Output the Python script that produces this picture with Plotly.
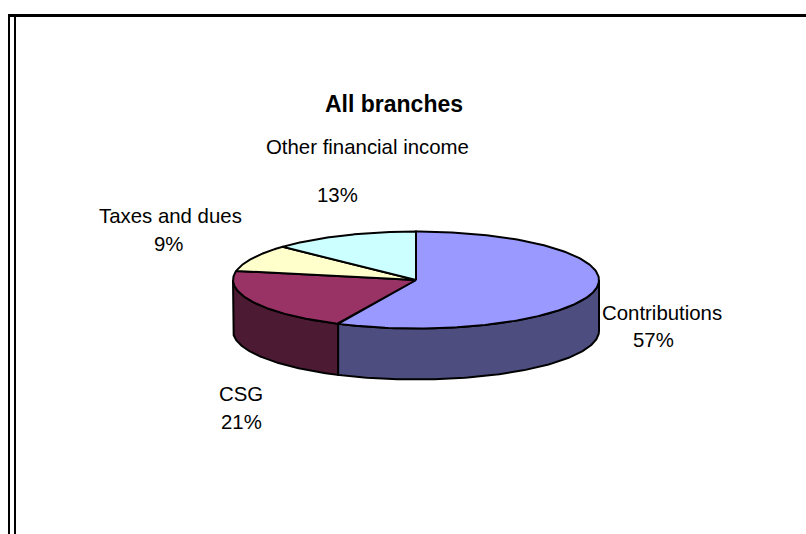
import numpy as np
import plotly.graph_objects as go

# Revenue shares for all branches, in percent
categories = ["Contributions", "CSG", "Taxes and dues", "Other financial income"]
shares = [57, 21, 9, 13]
top_colors = ["#9999FF", "#993366", "#FFFFCC", "#CCFFFF"]
side_colors = ["#4D4D80", "#4D1A33", "#80801A", "#1A8080"]

# Projected pie geometry, in page pixels
CX, CY, RX, RY, DEPTH = 416, 280, 183, 48.5, 51
OUTLINE = dict(color="#000000", width=2)

# Label anchors: (name x, name y, percent x, percent y)
label_anchors = [
    (662, 313, 653, 340),
    (241, 394, 241, 422),
    (170, 216, 168, 244),
    (367.5, 147, 337, 195),
]


def rim(theta):
    """Project clockwise-from-top angles (radians) onto the pie's top ellipse."""
    return CX + RX * np.sin(theta), CY - RY * np.cos(theta)


fig = go.Figure()
edges = np.radians(np.concatenate([[0], np.cumsum(shares)]) * 3.6)

# Outer walls: only the arc facing the viewer is visible
for i, name in enumerate(categories):
    lo, hi = max(edges[i], np.pi / 2), min(edges[i + 1], 3 * np.pi / 2)
    if hi <= lo:
        continue
    t = np.linspace(lo, hi, 120)
    x, y = rim(t)
    fig.add_trace(go.Scatter(
        x=np.concatenate([x, x[::-1], x[:1]]),
        y=np.concatenate([y, y[::-1] + DEPTH, y[:1]]),
        mode="lines", fill="toself", fillcolor=side_colors[i], line=OUTLINE,
        name=name, hoverinfo="name", showlegend=False,
    ))

# Top faces
for i, name in enumerate(categories):
    t = np.linspace(edges[i], edges[i + 1], 200)
    x, y = rim(t)
    fig.add_trace(go.Scatter(
        x=np.concatenate([[CX], x, [CX]]),
        y=np.concatenate([[CY], y, [CY]]),
        mode="lines", fill="toself", fillcolor=top_colors[i], line=OUTLINE,
        name=name, text=f"{shares[i]}%", hoverinfo="name+text", showlegend=False,
    ))

FONT = dict(family="Liberation Sans, Arial, sans-serif", size=20.4, color="#000000")
TITLE_FONT = dict(FONT, size=23)
annotations = [dict(x=394, y=104, text="<b>All branches</b>", font=TITLE_FONT)]
for name, share, (nx, ny, px, py) in zip(categories, shares, label_anchors):
    annotations.append(dict(x=nx, y=ny, text=name, font=FONT))
    annotations.append(dict(x=px, y=py, text=f"{share}%", font=FONT))
for a in annotations:
    a.update(xref="x", yref="y", showarrow=False, xanchor="center", yanchor="middle")

# Frame: heavy top rule and a double rule down the left side
frame_lines = [
    dict(x0=8, x1=806, y0=15.5, y1=15.5, width=3),
    dict(x0=9, x1=9, y0=15, y1=534, width=2),
    dict(x0=15, x1=15, y0=15, y1=534, width=2),
]
shapes = [
    dict(type="line", xref="x", yref="y", x0=s["x0"], x1=s["x1"], y0=s["y0"], y1=s["y1"],
         line=dict(color="#000000", width=s["width"]))
    for s in frame_lines
]

fig.update_layout(
    width=806, height=534, margin=dict(l=0, r=0, t=0, b=0),
    paper_bgcolor="#FFFFFF", plot_bgcolor="#FFFFFF",
    xaxis=dict(range=[0, 806], visible=False, fixedrange=True),
    yaxis=dict(range=[534, 0], visible=False, fixedrange=True),
    annotations=annotations, shapes=shapes,
)

fig.write_html("out.html", config={"displayModeBar": False})
